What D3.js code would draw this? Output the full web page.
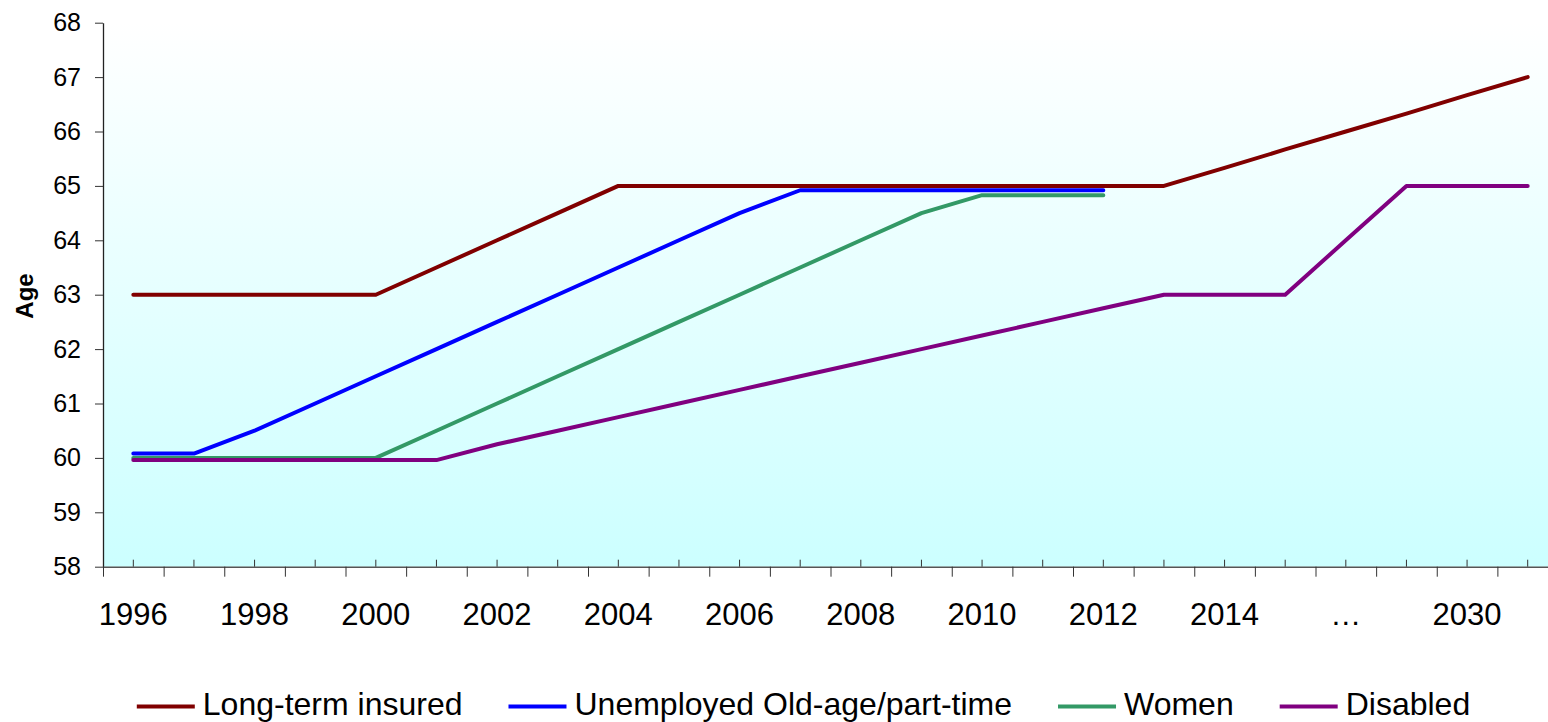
<!doctype html>
<html>
<head>
<meta charset="utf-8">
<title>Retirement age</title>
<style>
body { margin: 0; background: #ffffff; }
text { font-family: Arial, "Liberation Sans", sans-serif; fill: #000; }
</style>
</head>
<body>
<svg></svg>
<script src="https://cdn.jsdelivr.net/npm/d3@7/dist/d3.min.js"></script>
<script>
// categories along the x axis (only every second one gets a label)
var categories = ['1996','1997','1998','1999','2000','2001','2002','2003','2004','2005',
                  '2006','2007','2008','2009','2010','2011','2012','2013','2014','2015',
                  '…','2029','2030','2031'];
var yTicks = [58,59,60,61,62,63,64,65,66,67,68];

var longTerm   = [63,63,63,63,63,63.5,64,64.5,65,65,65,65,65,65,65,65,65,65,65.33,65.67,66,66.33,66.67,67];
var unemployed = [60.08,60.08,60.5,61,61.5,62,62.5,63,63.5,64,64.5,64.92,64.92,64.92,64.92,64.92,64.92,
                  null,null,null,null,null,null,null];
var women      = [60,60,60,60,60,60.5,61,61.5,62,62.5,63,63.5,64,64.5,64.83,64.83,64.83,
                  null,null,null,null,null,null,null];
var disabled   = [59.96,59.96,59.96,59.96,59.96,59.96,60.25,60.5,60.75,61,61.25,61.5,61.75,62,62.25,62.5,62.75,
                  63,63,63,64,65,65,65];

var seriesNames  = ['Long-term insured','Unemployed Old-age/part-time','Women','Disabled'];
var seriesColors = ['#800000','#0000ff','#339966','#800080'];
var seriesData   = [longTerm, unemployed, women, disabled];

var width = 1548, height = 722;
var plotLeft = 103, plotRight = 1558, plotTop = 22.7, plotBottom = 566.7;

var svg = d3.select('svg').attr('width', width).attr('height', height);

// background gradient of the plot area
var grad = svg.append('defs').append('linearGradient')
    .attr('id','bg').attr('x1',0).attr('y1',0).attr('x2',0).attr('y2',1);
grad.append('stop').attr('offset','0%').attr('stop-color','#ffffff');
grad.append('stop').attr('offset','100%').attr('stop-color','#ccffff');

svg.append('rect')
    .attr('x', plotLeft).attr('y', plotTop)
    .attr('width', plotRight - plotLeft).attr('height', plotBottom - plotTop)
    .attr('fill','url(#bg)');

var idx = d3.range(categories.length);
var x = d3.scaleBand().domain(idx).range([plotLeft, plotRight]).padding(0);
var xb = d3.scaleLinear().domain([0, categories.length]).range([plotLeft, plotRight]);
var y = d3.scaleLinear().domain([58, 68]).range([plotBottom, plotTop]);

function cx(i) { return x(i) + x.bandwidth() / 2; }

// y axis
var yAxis = svg.append('g')
    .attr('transform','translate(' + plotLeft + ',0)')
    .call(d3.axisLeft(y).tickValues(yTicks).tickSize(8).tickSizeOuter(0).tickPadding(14).tickFormat(d3.format('d')));
yAxis.selectAll('text').style('font-size','25px');
yAxis.selectAll('line').attr('stroke','#333');
yAxis.select('.domain').attr('stroke','#222').attr('stroke-width',1.3);

// x axis: inner ticks at points, outer ticks at boundaries, labels
var xInner = svg.append('g')
    .attr('transform','translate(0,' + plotBottom + ')')
    .call(d3.axisBottom(x).tickSize(-7).tickSizeOuter(0).tickFormat(''));
xInner.selectAll('line').attr('stroke','#333');
xInner.select('.domain').attr('stroke','#555').attr('stroke-width',1.5);

var xOuter = svg.append('g')
    .attr('transform','translate(0,' + plotBottom + ')')
    .call(d3.axisBottom(xb).tickValues(d3.range(0, categories.length + 1)).tickSize(10).tickFormat(''));
xOuter.select('.domain').remove();
xOuter.selectAll('line').attr('stroke','#333');

var xLab = svg.append('g')
    .attr('transform','translate(0,' + plotBottom + ')')
    .call(d3.axisBottom(x).tickValues(idx.filter(function (i) { return i % 2 === 0; }))
          .tickSize(0).tickPadding(36).tickFormat(function (i) { return categories[i]; }));
xLab.select('.domain').remove();
xLab.selectAll('text').style('font-size','31px');

// y axis title
svg.append('text')
    .attr('transform','translate(33,296) rotate(-90)')
    .attr('text-anchor','middle')
    .style('font-size','24px').style('font-weight','bold')
    .text('Age');

// lines
var line = d3.line()
    .defined(function (d) { return d != null; })
    .x(function (d, i) { return cx(i); })
    .y(function (d) { return y(d); });

svg.append('g').selectAll('path.series')
    .data(seriesData)
    .enter().append('path')
    .attr('class','series')
    .attr('fill','none')
    .attr('stroke', function (d, i) { return seriesColors[i]; })
    .attr('stroke-width', 4)
    .attr('stroke-linejoin','round')
    .attr('stroke-linecap','round')
    .attr('d', line);

// legend
var legend = svg.append('g');
var lx = 0;
seriesNames.forEach(function (name, i) {
    var item = legend.append('g').attr('transform','translate(' + lx + ',0)');
    item.append('line')
        .attr('x1', 0).attr('x2', 58).attr('y1', 706.5).attr('y2', 706.5)
        .attr('stroke', seriesColors[i]).attr('stroke-width', 4);
    var t = item.append('text')
        .attr('x', 66).attr('y', 715)
        .style('font-size','32px')
        .text(name);
    lx += 66 + t.node().getComputedTextLength() + 46;
});
var legendWidth = lx - 46;
legend.attr('transform','translate(' + (803.5 - legendWidth / 2) + ',0)');
</script>
</body>
</html>
